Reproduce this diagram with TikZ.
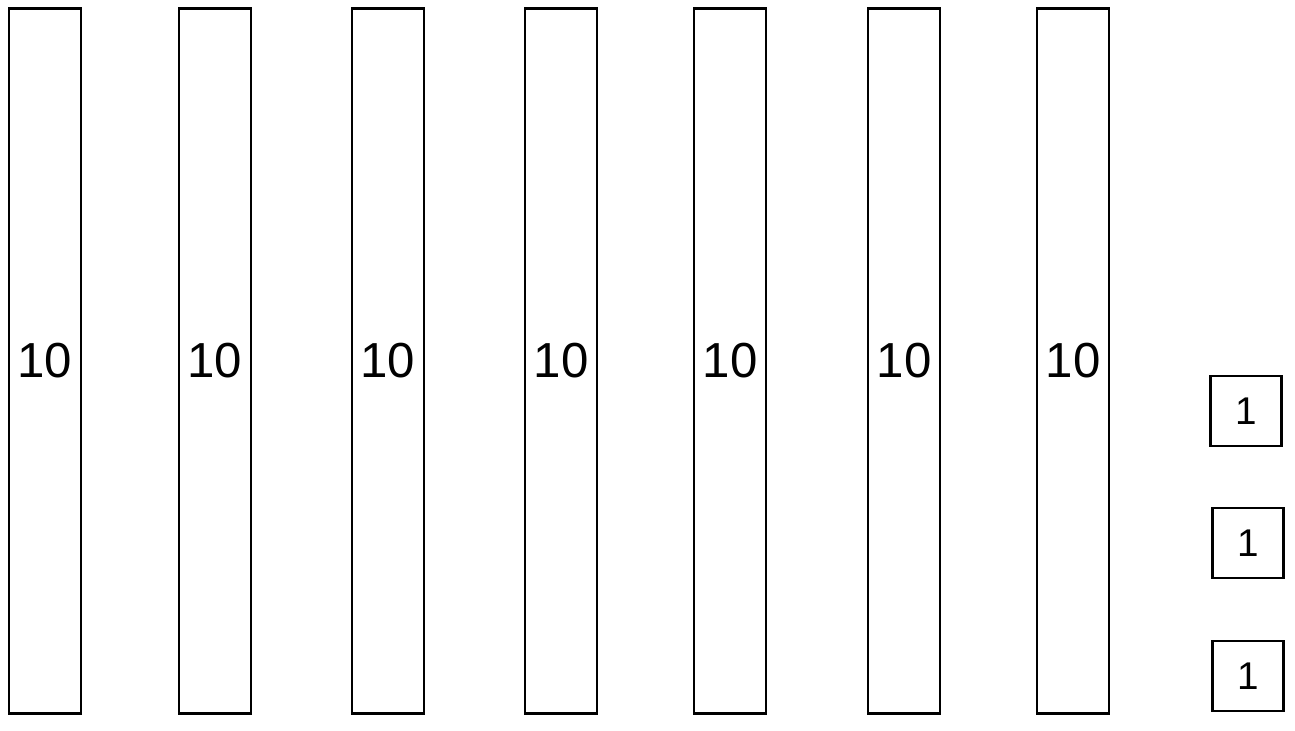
\documentclass[tikz,border=0pt]{standalone}
\usepackage{fontspec}
\setmainfont{Liberation Sans}
\tikzset{
  tenbar/.style={draw=black, line width=1.6pt, minimum width=1.44cm, minimum height=14.1cm, inner sep=0pt, font=\fontsize{28}{28}\selectfont},
  onebox/.style={draw=black, line width=1.6pt, minimum width=1.42cm, minimum height=1.4cm, inner sep=0pt, font=\fontsize{22}{22}\selectfont}
}
\begin{document}
\begin{tikzpicture}
\useasboundingbox (0,0) rectangle (25.9,14.6);
\node[tenbar] (bar1) at (0.9,7.38) {10};
\node[tenbar] (bar2) at (4.3,7.38) {10};
\node[tenbar] (bar3) at (7.76,7.38) {10};
\node[tenbar] (bar4) at (11.22,7.38) {10};
\node[tenbar] (bar5) at (14.6,7.38) {10};
\node[tenbar] (bar6) at (18.08,7.38) {10};
\node[tenbar] (bar7) at (21.46,7.38) {10};
\node[onebox] (one1) at (24.92,6.38) {1};
\node[onebox] (one2) at (24.96,3.74) {1};
\node[onebox] (one3) at (24.96,1.08) {1};
\end{tikzpicture}
\end{document}
